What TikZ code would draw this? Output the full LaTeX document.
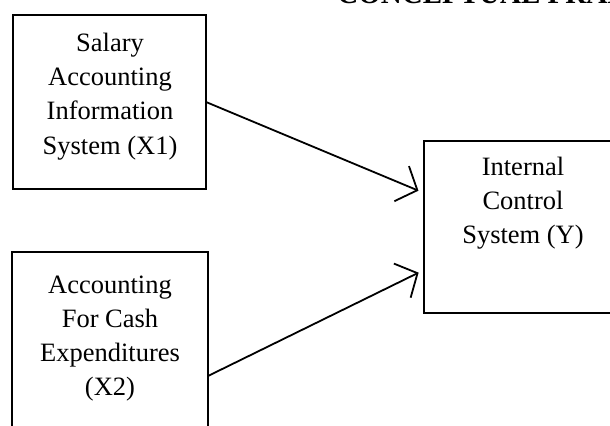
\documentclass[tikz,border=0pt]{standalone}
\usepackage{fontspec}
\setmainfont{Liberation Serif}
\usetikzlibrary{arrows.meta}

\tikzset{
  varbox/.style={draw, line width=1pt, inner sep=0pt, outer sep=0pt, rectangle},
  boxtext/.style={align=center, inner sep=0pt, font=\fontsize{13.25}{17.1}\selectfont},
  link/.style={line width=0.9pt, -{Straight Barb[length=8.5pt,width=19pt,line width=0.9pt]}, shorten >=3pt},
  heading/.style={anchor=base west, inner sep=0pt, font=\fontsize{14.5}{17}\selectfont\bfseries}
}

\begin{document}
\begin{tikzpicture}[x=0.5pt,y=-0.5pt]
  \useasboundingbox (0,0) rectangle (610,426);
  \clip (0,0) rectangle (610,426);

  % page heading, running off the top edge
  \node[heading] (title) at (337,4) {CONCEPTUAL FRAMEWORK};

  % independent variables
  \node[varbox, minimum width=96.5pt, minimum height=87pt] (x1) at (109.5,102) {};
  \node[boxtext] (x1t) at (110,96.5) {Salary\\Accounting\\Information\\System (X1)};

  \node[varbox, minimum width=98pt, minimum height=124pt] (x2) at (110,376) {};
  \node[boxtext] (x2t) at (110,338.5) {Accounting\\For Cash\\Expenditures\\(X2)};

  % dependent variable
  \node[varbox, minimum width=99pt, minimum height=86pt] (y) at (523,227) {};
  \node[boxtext] (yt) at (523,203) {Internal\\Control\\System (Y)};

  % influence arrows
  \draw[link] (x1.east) -- ([yshift=17pt]y.west);
  \draw[link] (x2.east) -- ([yshift=-21.5pt]y.west);
\end{tikzpicture}
\end{document}
